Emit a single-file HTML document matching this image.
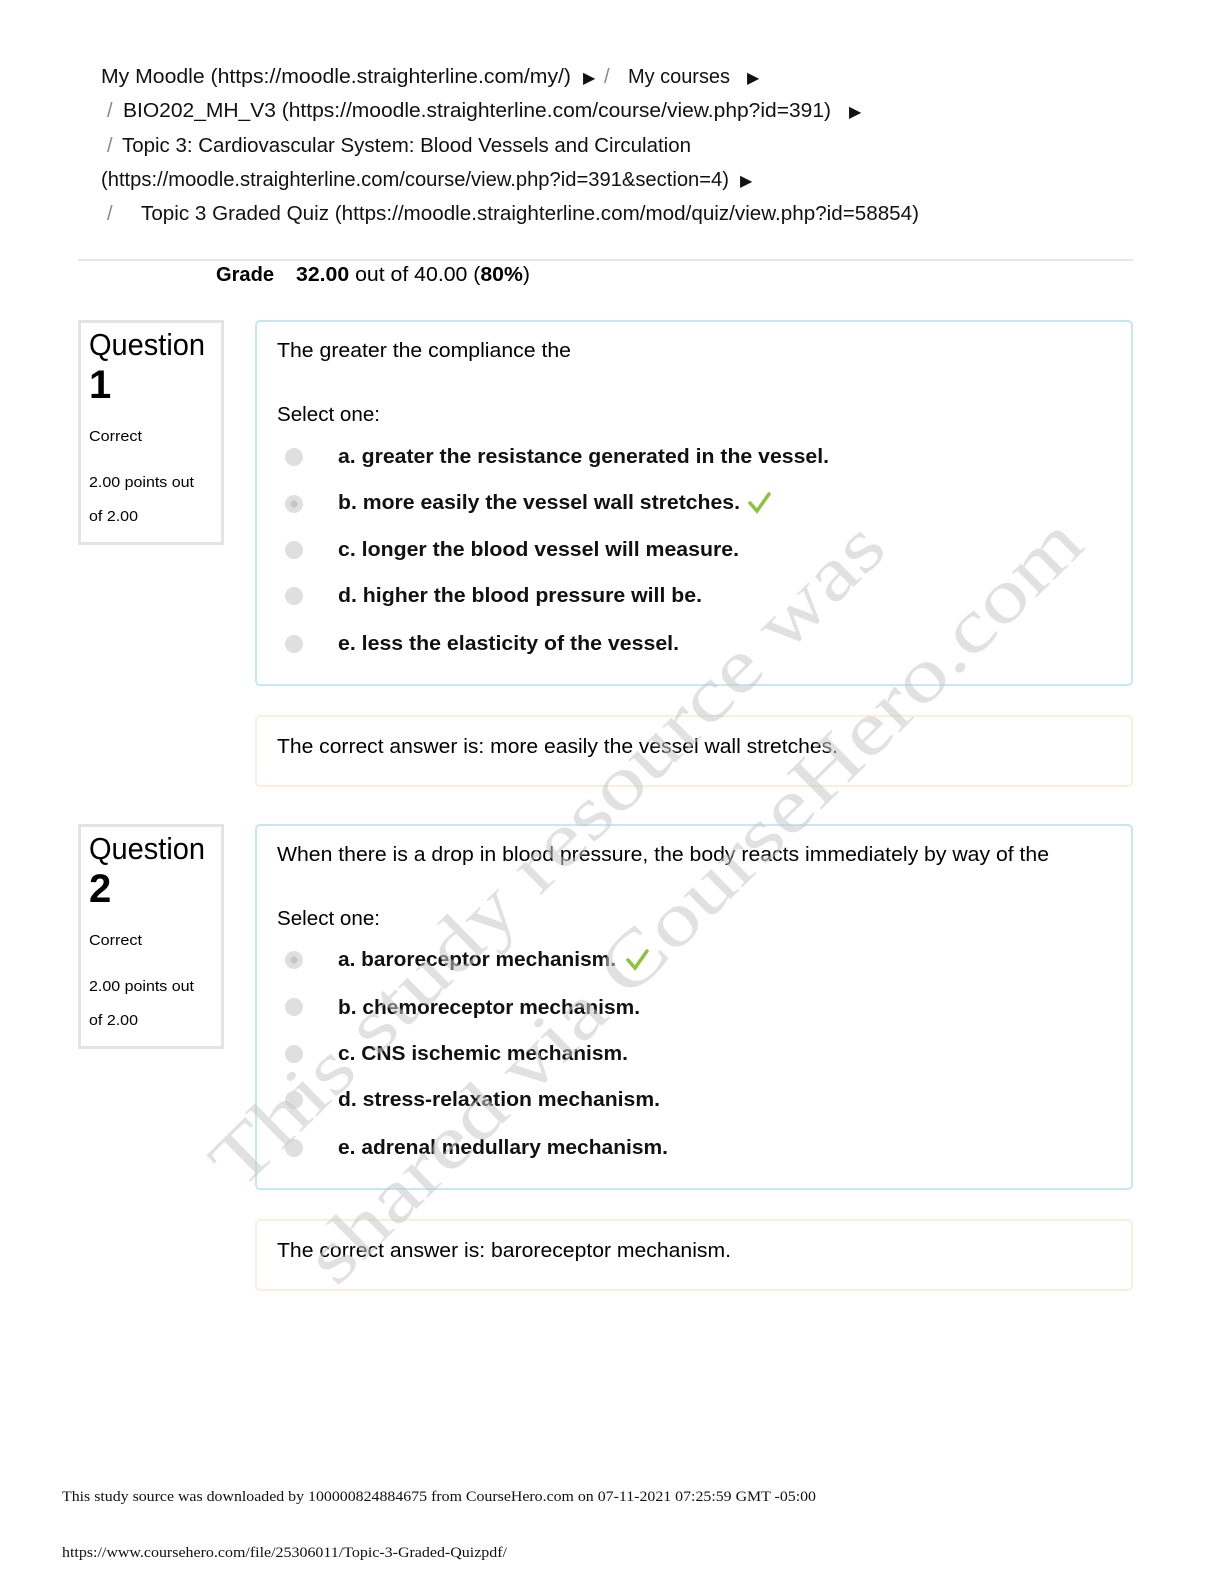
<!DOCTYPE html>
<html><head><meta charset="utf-8"><style>html,body{margin:0;padding:0;background:#fff;overflow:hidden;width:1222px;height:1582px}svg{display:block;position:absolute;left:0;top:0}</style></head>
<body>
<svg xmlns="http://www.w3.org/2000/svg" width="1222" height="1582" viewBox="0 0 1222 1582" font-family="Liberation Sans, sans-serif">
<rect width="1222" height="1582" fill="#fff"/>
<g font-size="20" fill="#111">
<text x="101" y="83" textLength="470" lengthAdjust="spacingAndGlyphs">My Moodle (https://moodle.straighterline.com/my/)</text>
<text x="583" y="83" font-size="16">▶</text><text x="604" y="83" fill="#888">/</text>
<text x="628" y="83" textLength="102" lengthAdjust="spacingAndGlyphs">My courses</text>
<text x="747" y="83" font-size="16">▶</text>
<text x="107" y="117" fill="#888">/</text>
<text x="123" y="117" textLength="708" lengthAdjust="spacingAndGlyphs">BIO202_MH_V3 (https://moodle.straighterline.com/course/view.php?id=391)</text>
<text x="849" y="117" font-size="16">▶</text>
<text x="107" y="152" fill="#888">/</text>
<text x="122" y="152" textLength="569" lengthAdjust="spacingAndGlyphs">Topic 3: Cardiovascular System: Blood Vessels and Circulation</text>
<text x="101" y="186" textLength="628" lengthAdjust="spacingAndGlyphs">(https://moodle.straighterline.com/course/view.php?id=391&amp;section=4)</text>
<text x="740" y="186" font-size="16">▶</text>
<text x="107" y="220" fill="#888">/</text>
<text x="141" y="220" textLength="778" lengthAdjust="spacingAndGlyphs">Topic  3  Graded  Quiz  (https://moodle.straighterline.com/mod/quiz/view.php?id=58854)</text>
</g>
<rect x="78" y="259" width="1055" height="2" fill="#e6e6e6"/>
<text x="216" y="281" font-size="20" font-weight="bold" textLength="58" lengthAdjust="spacingAndGlyphs">Grade</text>
<text x="296" y="281" font-size="20" textLength="234" lengthAdjust="spacingAndGlyphs"><tspan font-weight="bold">32.00</tspan> out of 40.00 (<tspan font-weight="bold">80%</tspan>)</text>

<g>
<rect x="79.5" y="321.5" width="143" height="222" fill="none" stroke="#e3e3e3" stroke-width="3"/>
<text x="89" y="355" font-size="31" textLength="116" lengthAdjust="spacingAndGlyphs">Question</text>
<text x="89" y="398" font-size="40" font-weight="bold">1</text>
<text x="89" y="441" font-size="15" textLength="53" lengthAdjust="spacingAndGlyphs">Correct</text>
<text x="89" y="487" font-size="15" textLength="105" lengthAdjust="spacingAndGlyphs">2.00 points out</text>
<text x="89" y="521" font-size="15" textLength="49" lengthAdjust="spacingAndGlyphs">of 2.00</text>
<rect x="256" y="321" width="876" height="364" rx="4" fill="none" stroke="#c4e9f1" stroke-width="2"/>
<text x="277" y="357" font-size="20" textLength="294" lengthAdjust="spacingAndGlyphs">The greater the compliance the</text>
<text x="277" y="421" font-size="20" textLength="103" lengthAdjust="spacingAndGlyphs">Select one:</text>
<g fill="#dfdfdf"><circle cx="294" cy="457" r="9"/><circle cx="294" cy="504" r="9"/><circle cx="294" cy="550" r="9"/><circle cx="294" cy="596" r="9"/><circle cx="294" cy="644" r="9"/></g>
<circle cx="294" cy="504" r="3.5" fill="#c4c4c4"/>
<g font-size="20" font-weight="bold" fill="#111">
<text x="338" y="463" textLength="491" lengthAdjust="spacingAndGlyphs">a. greater the resistance generated in the vessel.</text>
<text x="338" y="509" textLength="402" lengthAdjust="spacingAndGlyphs">b. more easily the vessel wall stretches.</text>
<text x="338" y="556" textLength="401" lengthAdjust="spacingAndGlyphs">c. longer the blood vessel will measure.</text>
<text x="338" y="602" textLength="364" lengthAdjust="spacingAndGlyphs">d. higher the blood pressure will be.</text>
<text x="338" y="650" textLength="341" lengthAdjust="spacingAndGlyphs">e. less the elasticity of the vessel.</text>
</g>
<path d="M750 503 L757 511 L769 494" fill="none" stroke="#8ac43f" stroke-width="3.5" stroke-linecap="round"/>
<rect x="256" y="716" width="876" height="70" rx="4" fill="none" stroke="#fbeedb" stroke-width="2"/>
<text x="277" y="753" font-size="20" textLength="561" lengthAdjust="spacingAndGlyphs">The correct answer is: more easily the vessel wall stretches.</text>
</g>

<g>
<rect x="79.5" y="825.5" width="143" height="222" fill="none" stroke="#e3e3e3" stroke-width="3"/>
<text x="89" y="859" font-size="31" textLength="116" lengthAdjust="spacingAndGlyphs">Question</text>
<text x="89" y="902" font-size="40" font-weight="bold">2</text>
<text x="89" y="945" font-size="15" textLength="53" lengthAdjust="spacingAndGlyphs">Correct</text>
<text x="89" y="991" font-size="15" textLength="105" lengthAdjust="spacingAndGlyphs">2.00 points out</text>
<text x="89" y="1025" font-size="15" textLength="49" lengthAdjust="spacingAndGlyphs">of 2.00</text>
<rect x="256" y="825" width="876" height="364" rx="4" fill="none" stroke="#c4e9f1" stroke-width="2"/>
<text x="277" y="861" font-size="20" textLength="772" lengthAdjust="spacingAndGlyphs">When there is a drop in blood pressure, the body reacts immediately by way of the</text>
<text x="277" y="925" font-size="20" textLength="103" lengthAdjust="spacingAndGlyphs">Select one:</text>
<g fill="#dfdfdf"><circle cx="294" cy="960" r="9"/><circle cx="294" cy="1007" r="9"/><circle cx="294" cy="1054" r="9"/><circle cx="294" cy="1100" r="9"/><circle cx="294" cy="1148" r="9"/></g>
<circle cx="294" cy="960" r="3.5" fill="#c4c4c4"/>
<g font-size="20" font-weight="bold" fill="#111">
<text x="338" y="966" textLength="278" lengthAdjust="spacingAndGlyphs">a. baroreceptor mechanism.</text>
<text x="338" y="1014" textLength="302" lengthAdjust="spacingAndGlyphs">b. chemoreceptor mechanism.</text>
<text x="338" y="1060" textLength="290" lengthAdjust="spacingAndGlyphs">c. CNS ischemic mechanism.</text>
<text x="338" y="1106" textLength="322" lengthAdjust="spacingAndGlyphs">d. stress-relaxation mechanism.</text>
<text x="338" y="1154" textLength="330" lengthAdjust="spacingAndGlyphs">e. adrenal medullary mechanism.</text>
</g>
<path d="M628 960 L635 968 L647 951" fill="none" stroke="#8ac43f" stroke-width="3.5" stroke-linecap="round"/>
<rect x="256" y="1220" width="876" height="70" rx="4" fill="none" stroke="#fbeedb" stroke-width="2"/>
<text x="277" y="1257" font-size="20" textLength="454" lengthAdjust="spacingAndGlyphs">The correct answer is: baroreceptor mechanism.</text>
</g>

<g font-family="Liberation Serif, serif" font-size="76" fill="#c8c8c8" fill-opacity="0.55">
<text transform="translate(240,1192) rotate(-44.6)" textLength="912" lengthAdjust="spacingAndGlyphs">This study resource was</text>
<text transform="translate(336,1288) rotate(-44.6)" textLength="1055" lengthAdjust="spacingAndGlyphs">shared via CourseHero.com</text>
</g>

<g font-family="Liberation Serif, serif" font-size="15" fill="#111">
<text x="62" y="1501" textLength="754" lengthAdjust="spacingAndGlyphs">This study source was downloaded by 100000824884675 from CourseHero.com on 07-11-2021 07:25:59 GMT -05:00</text>
<text x="62" y="1557" textLength="445" lengthAdjust="spacingAndGlyphs">https://www.coursehero.com/file/25306011/Topic-3-Graded-Quizpdf/</text>
</g>
</svg>
</body></html>
